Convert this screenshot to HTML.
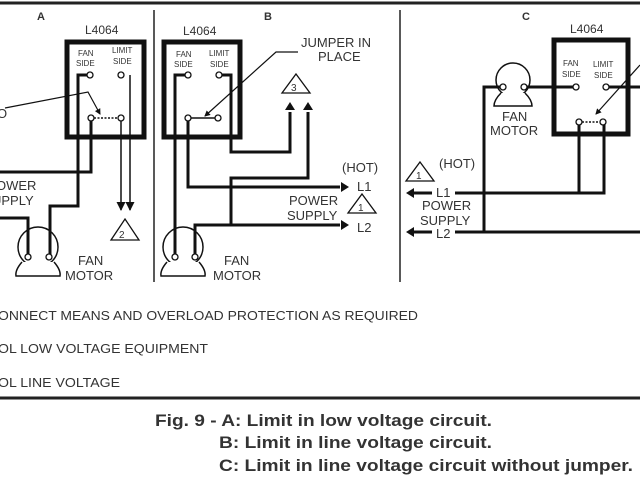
<!DOCTYPE html>
<html><head><meta charset="utf-8"><style>
html,body{margin:0;padding:0;background:#fff;}
svg{display:block;}
text{font-family:"Liberation Sans",sans-serif;fill:#333;}
</style></head><body>
<svg width="640" height="480" viewBox="0 0 640 480" xmlns="http://www.w3.org/2000/svg">
<defs>
<marker id="ah" markerWidth="6" markerHeight="6" refX="5" refY="3" orient="auto" markerUnits="userSpaceOnUse"><path d="M0,0 L6,3 L0,6 z" fill="#111"/></marker>
<marker id="ah2" markerWidth="9" markerHeight="9" refX="8" refY="4.5" orient="auto" markerUnits="userSpaceOnUse"><path d="M0,0 L9,4.5 L0,9 z" fill="#111"/></marker>
</defs>
<rect width="640" height="480" fill="#fff"/>
<line x1="0" y1="3" x2="640" y2="3" stroke="#222" stroke-width="3"/>
<line x1="0" y1="398" x2="640" y2="398" stroke="#222" stroke-width="3"/>
<line x1="154" y1="10" x2="154" y2="282" stroke="#222" stroke-width="1.5"/>
<line x1="400" y1="10" x2="400" y2="282" stroke="#222" stroke-width="1.5"/>

<g fill="none" stroke="#111">
<rect x="67" y="42" width="77" height="95" stroke-width="5"/>
<polyline points="90,75 78,75 78,206 50,206 50,256" stroke-width="3"/>
<polyline points="91,118 91,172 0,172" stroke-width="3"/>
<polyline points="0,218 28,218 28,256" stroke-width="3"/>
<line x1="94" y1="118" x2="118" y2="118" stroke-width="1.5" stroke-dasharray="2,1.5"/>
<line x1="121" y1="118" x2="121" y2="210" stroke-width="1.5" marker-end="url(#ah2)"/>
<line x1="130" y1="75" x2="130" y2="210" stroke-width="1.5" marker-end="url(#ah2)"/>
<polyline points="5,108 88,92 100,114" stroke-width="1.2" marker-end="url(#ah)"/>
<circle cx="38" cy="247" r="20" stroke-width="1.5"/>
<path d="M22,262 Q15,270 16,276 L60,276 Q61,270 54,262" stroke-width="1.5" fill="#fff"/>
<polygon points="125,219 139,240 111,240" stroke-width="1.3"/>

<rect x="164" y="42" width="76" height="95" stroke-width="5"/>
<polyline points="188,75 175,75 175,256" stroke-width="3"/>
<polyline points="219,75 231,75 231,152 290,152 290,112" stroke-width="3"/>
<polyline points="188,118 188,187 340,187" stroke-width="3"/>
<polyline points="308,112 308,178 231,178 231,225" stroke-width="3"/>
<polyline points="195,256 195,225 340,225" stroke-width="3"/>
<line x1="188" y1="118" x2="218" y2="118" stroke-width="1.5"/>
<polyline points="298,52 276,52 205,116" stroke-width="1.2" marker-end="url(#ah)"/>
<circle cx="183" cy="247" r="20" stroke-width="1.5"/>
<path d="M167,262 Q160,270 161,276 L205,276 Q206,270 199,262" stroke-width="1.5" fill="#fff"/>
<polygon points="296,74 310,93 282,93" stroke-width="1.3"/>
<polygon points="362,194 376,213 348,213" stroke-width="1.3"/>

<rect x="554" y="40" width="74" height="94" stroke-width="5"/>
<line x1="524" y1="87" x2="576" y2="87" stroke-width="3"/>
<line x1="606" y1="87" x2="640" y2="87" stroke-width="3"/>
<polyline points="503,87 484,87 484,232" stroke-width="3"/>
<polyline points="579,122 579,193 604,193 604,122" stroke-width="3"/>
<line x1="455" y1="193" x2="579" y2="193" stroke-width="3"/>
<line x1="455" y1="232" x2="640" y2="232" stroke-width="3"/>
<line x1="582" y1="122" x2="601" y2="122" stroke-width="1.5" stroke-dasharray="2,1.5"/>
<line x1="640" y1="65" x2="596" y2="114" stroke-width="1.2" marker-end="url(#ah)"/>
<circle cx="513" cy="80" r="17" stroke-width="1.5"/>
<path d="M501,93 Q494,100 494,106 L532,106 Q532,100 525,93" stroke-width="1.5" fill="#fff"/>
<polygon points="420,162 434,181 406,181" stroke-width="1.3"/>
</g>
<g fill="#111">
<polygon points="290,102 285,110 295,110"/>
<polygon points="308,102 303,110 313,110"/>
<polygon points="349,187 341,182 341,192"/>
<polygon points="349,225 341,220 341,230"/>
<polygon points="406,193 414,188 414,198"/>
<polygon points="406,232 414,227 414,237"/>
</g>
<g stroke="#111" stroke-width="3"><line x1="413" y1="193" x2="432" y2="193"/><line x1="413" y1="232" x2="432" y2="232"/></g>
<g fill="#fff" stroke="#111" stroke-width="1.3">
<circle cx="90" cy="75" r="3"/><circle cx="121" cy="75" r="3"/><circle cx="91" cy="118" r="3"/><circle cx="121" cy="118" r="3"/>
<circle cx="28" cy="257" r="3"/><circle cx="49" cy="257" r="3"/>
<circle cx="188" cy="75" r="3"/><circle cx="219" cy="75" r="3"/><circle cx="188" cy="118" r="3"/><circle cx="218" cy="118" r="3"/>
<circle cx="175" cy="257" r="3"/><circle cx="195" cy="257" r="3"/>
<circle cx="576" cy="87" r="3"/><circle cx="606" cy="87" r="3"/><circle cx="579" cy="122" r="3"/><circle cx="603" cy="122" r="3"/>
<circle cx="503" cy="87" r="3"/><circle cx="524" cy="87" r="3"/>
</g>

<g font-size="11">
<text x="37" y="20" font-weight="bold" fill="#222">A</text>
<text x="264" y="20" font-weight="bold" fill="#222">B</text>
<text x="522" y="20" font-weight="bold" fill="#222">C</text>
</g>
<g font-size="12">
<text x="85" y="34">L4064</text>
<text x="183" y="35">L4064</text>
<text x="570" y="33">L4064</text>
</g>
<g font-size="13">
<text x="-3" y="118">O</text>
<text x="-4" y="190">OWER</text>
<text x="-8" y="205">UPPLY</text>
<text x="78" y="265">FAN</text><text x="65" y="280">MOTOR</text>
<text x="224" y="265">FAN</text><text x="213" y="280">MOTOR</text>
<text x="502" y="121">FAN</text><text x="490" y="135">MOTOR</text>
<text x="301" y="47">JUMPER IN</text><text x="318" y="61">PLACE</text>
<text x="342" y="172">(HOT)</text>
<text x="357" y="191">L1</text>
<text x="289" y="205">POWER</text><text x="287" y="220">SUPPLY</text>
<text x="357" y="232">L2</text>
<text x="439" y="168">(HOT)</text>
<text x="436" y="197">L1</text>
<text x="422" y="210">POWER</text><text x="420" y="225">SUPPLY</text>
<text x="436" y="238">L2</text>
</g>
<g font-size="8">
<text x="78" y="56">FAN</text><text x="76" y="66">SIDE</text>
<text x="112" y="53">LIMIT</text><text x="113" y="64">SIDE</text>
<text x="176" y="57">FAN</text><text x="174" y="67">SIDE</text>
<text x="209" y="56">LIMIT</text><text x="210" y="67">SIDE</text>
<text x="563" y="66">FAN</text><text x="562" y="77">SIDE</text>
<text x="593" y="67">LIMIT</text><text x="594" y="78">SIDE</text>
<text x="119" y="238" font-size="10">2</text>
<text x="291" y="91" font-size="10">3</text>
<text x="358" y="211" font-size="10">1</text>
<text x="416" y="179" font-size="10">1</text>
</g>
<g font-size="12.5" fill="#444">
<text x="-2" y="320" textLength="420" lengthAdjust="spacingAndGlyphs">ONNECT MEANS AND OVERLOAD PROTECTION AS REQUIRED</text>
<text x="-2" y="353" textLength="210" lengthAdjust="spacingAndGlyphs">OL LOW VOLTAGE EQUIPMENT</text>
<text x="-2" y="387" textLength="122" lengthAdjust="spacingAndGlyphs">OL LINE VOLTAGE</text>
</g>
<g font-size="17" font-weight="bold">
<text x="155" y="426" fill="#222" textLength="337" lengthAdjust="spacingAndGlyphs">Fig. 9 - A: Limit in low voltage circuit.</text>
<text x="219" y="448" fill="#222" textLength="273" lengthAdjust="spacingAndGlyphs">B: Limit in line voltage circuit.</text>
<text x="219" y="471" fill="#222" textLength="414" lengthAdjust="spacingAndGlyphs">C: Limit in line voltage circuit without jumper.</text>
</g>
</svg>
</body></html>
